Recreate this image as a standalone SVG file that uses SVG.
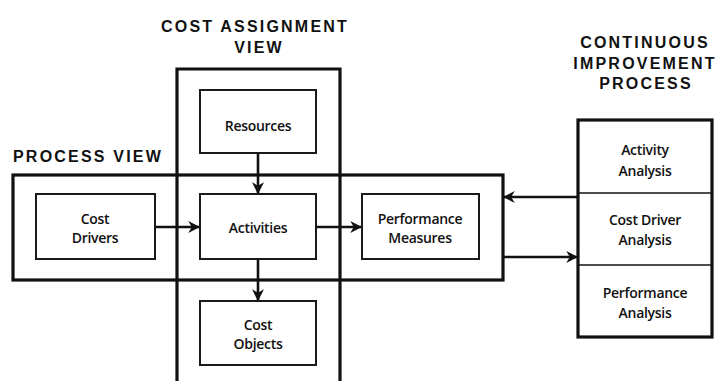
<svg xmlns="http://www.w3.org/2000/svg" width="718" height="381" viewBox="0 0 718 381">
  <style>
    .frame { fill: none; stroke: #111; stroke-width: 3.2; }
    .box { fill: none; stroke: #1a1a1a; stroke-width: 2; }
    .title { font-family: "Liberation Sans", "Open Sans", sans-serif; font-weight: 700; font-size: 16px; fill: #111; text-anchor: middle; letter-spacing: 2.2px; }
    .label { font-family: "Open Sans", "Liberation Sans", sans-serif; font-weight: 600; font-size: 14px; fill: #111; text-anchor: middle; letter-spacing: -0.3px; }
    .conn { stroke: #111; stroke-width: 2.6; fill: none; }
  </style>
  <defs>
    <marker id="arrow" viewBox="0 0 10 10" refX="9" refY="5" markerWidth="4.6" markerHeight="4.6" orient="auto" markerUnits="strokeWidth">
      <path d="M0,0 L10,5 L0,10 L3,5 Z" fill="#111"/>
    </marker>
  </defs>
  <rect width="718" height="381" fill="#fff"/>

  <!-- view frames -->
  <g id="cost-assignment-view">
    <path class="frame" d="M177,392 V69 H340 V392"/>
    <text class="title" x="255" y="32">COST ASSIGNMENT</text>
    <text class="title" x="259" y="53">VIEW</text>
  </g>
  <g id="process-view">
    <rect class="frame" x="13" y="175" width="490" height="105"/>
    <text class="title" x="13" y="162" style="text-anchor:start">PROCESS VIEW</text>
  </g>
  <g id="continuous-improvement-process">
    <rect class="frame" x="578" y="120" width="134" height="217"/>
    <line x1="578" y1="193" x2="712" y2="193" stroke="#111" stroke-width="1.6"/>
    <line x1="578" y1="265" x2="712" y2="265" stroke="#111" stroke-width="1.6"/>
    <text class="title" x="645" y="48">CONTINUOUS</text>
    <text class="title" x="645" y="69">IMPROVEMENT</text>
    <text class="title" x="646" y="89">PROCESS</text>
    <text class="label" x="645" y="155">Activity</text>
    <text class="label" x="645" y="176">Analysis</text>
    <text class="label" x="645" y="225">Cost Driver</text>
    <text class="label" x="645" y="245">Analysis</text>
    <text class="label" x="645" y="298">Performance</text>
    <text class="label" x="645" y="318">Analysis</text>
  </g>

  <!-- nodes -->
  <g id="resources">
    <rect class="box" x="200" y="90" width="116" height="63"/>
    <text class="label" x="258" y="131">Resources</text>
  </g>
  <g id="cost-drivers">
    <rect class="box" x="36" y="194" width="119" height="65"/>
    <text class="label" x="95" y="224">Cost</text>
    <text class="label" x="95" y="243">Drivers</text>
  </g>
  <g id="activities">
    <rect class="box" x="200" y="194" width="116" height="65"/>
    <text class="label" x="258" y="233">Activities</text>
  </g>
  <g id="performance-measures">
    <rect class="box" x="362" y="194" width="117" height="65"/>
    <text class="label" x="420" y="224">Performance</text>
    <text class="label" x="420" y="243">Measures</text>
  </g>
  <g id="cost-objects">
    <rect class="box" x="200" y="301" width="116" height="64"/>
    <text class="label" x="258" y="330">Cost</text>
    <text class="label" x="258" y="349">Objects</text>
  </g>

  <!-- connectors -->
  <g id="connectors">
    <line class="conn" x1="258" y1="153" x2="258" y2="193" marker-end="url(#arrow)"/>
    <line class="conn" x1="258" y1="259" x2="258" y2="300" marker-end="url(#arrow)"/>
    <line class="conn" x1="155" y1="227" x2="199" y2="227" marker-end="url(#arrow)"/>
    <line class="conn" x1="316" y1="227" x2="361" y2="227" marker-end="url(#arrow)"/>
    <line class="conn" x1="578" y1="197" x2="504" y2="197" marker-end="url(#arrow)"/>
    <line class="conn" x1="503" y1="257" x2="577" y2="257" marker-end="url(#arrow)"/>
  </g>
</svg>
